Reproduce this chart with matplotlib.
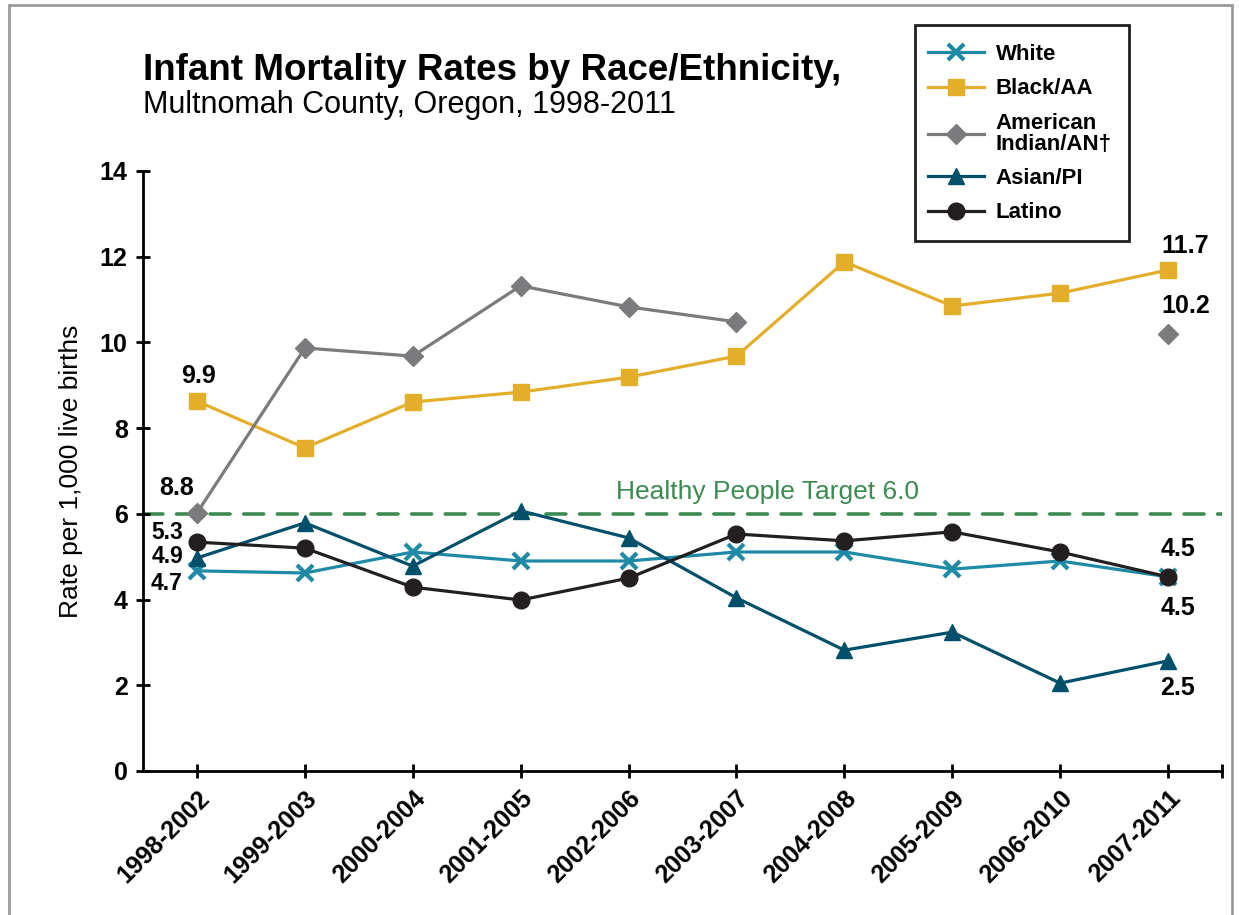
import numpy as np
import matplotlib
matplotlib.use("Agg")
from matplotlib import pyplot as plt
from matplotlib.patches import Rectangle

plt.rcParams['font.family'] = ['Liberation Sans', 'DejaVu Sans']

periods = ['1998-2002', '1999-2003', '2000-2004', '2001-2005', '2002-2006',
           '2003-2007', '2004-2008', '2005-2009', '2006-2010', '2007-2011']
white = [4.67, 4.62, 5.11, 4.90, 4.90, 5.11, 5.11, 4.71, 4.90, 4.53]
black = [8.63, 7.54, 8.61, 8.84, 9.19, 9.68, 11.88, 10.85, 11.15, 11.69]
am_indian = [6.02, 9.87, 9.68, 11.32, 10.83, 10.48, np.nan, np.nan, np.nan, 10.2]
asian = [4.97, 5.79, 4.78, 6.07, 5.44, 4.04, 2.82, 3.24, 2.05, 2.57]
latino = [5.34, 5.20, 4.29, 3.99, 4.50, 5.53, 5.37, 5.58, 5.11, 4.53]
target = 6.0

# value labels printed at the ends of the lines (text, x, y, size)
end_labels = [('9.9', 0.01, 9.22, 18), ('8.8', -0.185, 6.60, 18),
              ('5.3', -0.277, 5.57, 16.5), ('4.9', -0.277, 5.0, 16.5),
              ('4.7', -0.277, 4.38, 16.5),
              ('11.7', 9.16, 12.25, 18), ('10.2', 9.16, 10.85, 18),
              ('4.5', 9.09, 5.18, 18), ('4.5', 9.09, 3.80, 18), ('2.5', 9.09, 1.94, 18)]

c_white = '#1e8aa6'
c_black = '#e3ae2a'
c_ai = '#7b7b7d'
c_asian = '#00506b'
c_latino = '#231f20'
c_green = '#3b8b50'

W, H = 1239, 915
fig = plt.figure(figsize=(W / 100, H / 100), dpi=100)
ax = fig.add_axes([143 / W, 1 - 771 / H, (1222 - 143) / W, 600 / H])

x = np.arange(len(periods))
ax.axhline(target, color=c_green, lw=2.6, ls=(0, (5.5, 3.8)),
           dash_capstyle='round', zorder=1)

lw = 2.3
ax.plot(x, white, color=c_white, lw=lw, marker='x', ms=11, mew=3, label='White', zorder=3)
ax.plot(x, black, color=c_black, lw=lw, marker='s', ms=11, label='Black/AA', zorder=3)
ax.plot(x, am_indian, color=c_ai, lw=lw, marker='D', ms=10, label='American\nIndian/AN\u2020', zorder=3)
ax.plot(x, asian, color=c_asian, lw=lw, marker='^', ms=11, label='Asian/PI', zorder=3)
ax.plot(x, latino, color=c_latino, lw=lw, marker='o', ms=12, label='Latino', zorder=4)

ax.set_xlim(-0.5, 9.5)
ax.set_ylim(0, 14)
ax.set_yticks(range(0, 15, 2))
ax.set_xticks(x)
ax.set_xticks([9.5], minor=True)
ax.set_xticklabels(periods, rotation=45, ha='right', rotation_mode='anchor')
for s in ['top', 'right']:
    ax.spines[s].set_visible(False)
for s in ['left', 'bottom']:
    ax.spines[s].set_linewidth(2)
ax.tick_params(which='both', direction='inout', length=10, width=2)
ax.tick_params(axis='y', labelsize=18, pad=6)
ax.tick_params(axis='x', labelsize=18, pad=6)
for t in ax.get_xticklabels() + ax.get_yticklabels():
    t.set_fontweight('bold')
ax.set_ylabel('Rate per 1,000 live births', fontsize=19, labelpad=12)

ax.text(5.29, 6.22, 'Healthy People Target 6.0', color=c_green, fontsize=19,
        ha='center', va='bottom')

for txt, lx, ly, fs in end_labels:
    ax.text(lx, ly, txt, ha='center', va='center', fontsize=fs,
            fontweight='bold', color='black', zorder=5)

# legend box drawn at the reference position, entries placed inside
fig.patches.append(Rectangle((915 / W, 1 - 241 / H), 214 / W, 216 / H,
                             transform=fig.transFigure, fill=False,
                             edgecolor='#231f20', lw=2))
leg = ax.legend(loc='upper left', bbox_to_anchor=(928 / W, 1 - 44 / H),
                bbox_transform=fig.transFigure, frameon=False,
                prop={'weight': 'bold', 'size': 16}, handlelength=2.5,
                borderpad=0, borderaxespad=0, labelspacing=0.6, handletextpad=0.55)
for t in leg.get_texts():
    t.set_linespacing(1.0)

fig.text(143 / W, 1 - 80 / H, 'Infant Mortality Rates by Race/Ethnicity,',
         fontsize=26.5, fontweight='bold', ha='left', va='baseline')
fig.text(143 / W, 1 - 113 / H, 'Multnomah County, Oregon, 1998-2011',
         fontsize=22, ha='left', va='baseline')

fig.patches.append(Rectangle((9 / W, -0.05), (1232 - 9) / W, 1.05 - 5 / H,
                             transform=fig.transFigure, fill=False,
                             edgecolor='#9a9a9a', lw=2))

fig.savefig('out.png', dpi=100)
